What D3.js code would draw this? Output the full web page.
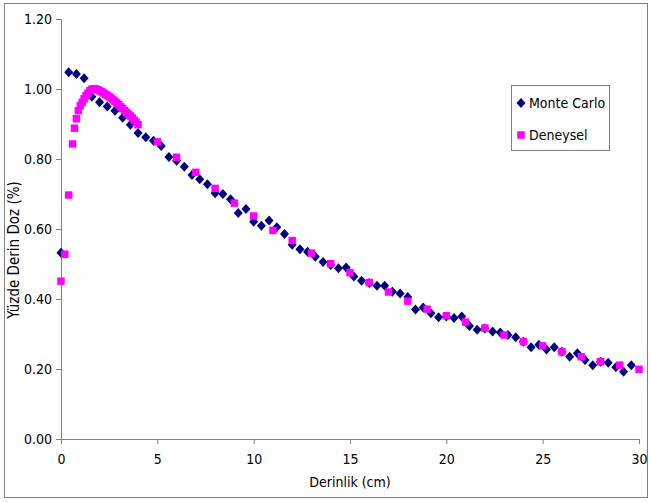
<!DOCTYPE html>
<html>
<head>
<meta charset="utf-8">
<script src="https://cdn.jsdelivr.net/npm/d3@7"></script>
<style>
  body { margin: 0; background: #fff; }
  svg text { font-family: "Liberation Sans Narrow", "Arial Narrow", "DejaVu Sans Condensed", sans-serif; fill: #000; }
</style>
</head>
<body>
<svg id="chart"></svg>
<script>
// Monte Carlo: every 0.4 cm
const mcDepth = [0, 0.4, 0.8, 1.2, 1.6, 2.0, 2.4, 2.8, 3.2, 3.6, 4.0, 4.4, 4.8, 5.2, 5.6, 6.0, 6.4, 6.8, 7.2, 7.6,
  8.0, 8.4, 8.8, 9.2, 9.6, 10.0, 10.4, 10.8, 11.2, 11.6, 12.0, 12.4, 12.8, 13.2, 13.6, 14.0, 14.4, 14.8, 15.2, 15.6,
  16.0, 16.4, 16.8, 17.2, 17.6, 18.0, 18.4, 18.8, 19.2, 19.6, 20.0, 20.4, 20.8, 21.2, 21.6, 22.0, 22.4, 22.8, 23.2, 23.6,
  24.0, 24.4, 24.8, 25.2, 25.6, 26.0, 26.4, 26.8, 27.2, 27.6, 28.0, 28.4, 28.8, 29.2, 29.6];
const mcDose = [0.532, 1.048, 1.043, 1.031, 0.978, 0.962, 0.950, 0.938, 0.918, 0.898, 0.874, 0.862, 0.852, 0.837, 0.806, 0.795, 0.778, 0.754, 0.742, 0.728,
  0.702, 0.700, 0.685, 0.646, 0.657, 0.621, 0.609, 0.624, 0.605, 0.586, 0.555, 0.542, 0.535, 0.521, 0.506, 0.497, 0.488, 0.490, 0.464, 0.452,
  0.446, 0.438, 0.438, 0.421, 0.416, 0.406, 0.370, 0.376, 0.359, 0.348, 0.350, 0.346, 0.350, 0.323, 0.312, 0.316, 0.307, 0.304, 0.297, 0.291,
  0.278, 0.262, 0.269, 0.256, 0.262, 0.249, 0.235, 0.245, 0.226, 0.211, 0.221, 0.218, 0.205, 0.192, 0.211];

// Deneysel (measured)
const expDepth = [0, 0.2, 0.4, 0.6, 0.7, 0.8, 0.9, 1.0, 1.1, 1.2, 1.3, 1.4, 1.5, 1.6, 1.7, 1.8, 1.9, 2.0, 2.1, 2.2,
  2.3, 2.4, 2.5, 2.6, 2.7, 2.8, 2.9, 3.0, 3.1, 3.2, 3.3, 3.4, 3.5, 3.6, 3.7, 3.8, 3.9, 4.0,
  5, 6, 7, 8, 9, 10, 11, 12, 13, 14, 15, 16, 17, 18, 19, 20, 21, 22, 23, 24, 25, 26, 27, 28, 29, 30];
const expDose = [0.451, 0.528, 0.697, 0.843, 0.888, 0.915, 0.938, 0.952, 0.962, 0.972, 0.981, 0.988, 0.995, 0.999, 1.001, 1.000, 0.998, 0.995, 0.992, 0.989,
  0.985, 0.982, 0.978, 0.974, 0.969, 0.965, 0.960, 0.955, 0.949, 0.944, 0.938, 0.933, 0.928, 0.923, 0.917, 0.911, 0.905, 0.898,
  0.849, 0.805, 0.762, 0.716, 0.674, 0.637, 0.596, 0.567, 0.531, 0.501, 0.475, 0.447, 0.420, 0.394, 0.371, 0.352, 0.334, 0.317, 0.297, 0.278, 0.266, 0.249, 0.235, 0.221, 0.211, 0.199];

const xTicks = [0, 5, 10, 15, 20, 25, 30];
const yTicks = [0, 0.2, 0.4, 0.6, 0.8, 1.0, 1.2];
const seriesNames = ["Monte Carlo", "Deneysel"];

const W = 650, H = 502;
const svg = d3.select("#chart").attr("width", W).attr("height", H);

svg.append("rect").attr("x", 4.5).attr("y", 3.5).attr("width", 643).attr("height", 494)
  .attr("fill", "#fff").attr("stroke", "#7f7f7f").attr("stroke-width", 1);

const x = d3.scaleLinear().domain([0, 30]).range([61, 639]);
const y = d3.scaleLinear().domain([0, 1.2]).range([439, 19]);

const xAxis = svg.append("g").attr("transform", `translate(0,${y(0)})`)
  .call(d3.axisBottom(x).tickValues(xTicks).tickFormat(d3.format("d")).tickSize(5).tickPadding(10));
const yAxis = svg.append("g").attr("transform", `translate(${x(0)},0)`)
  .call(d3.axisLeft(y).tickValues(yTicks).tickFormat(d3.format(".2f")).tickSize(5).tickPadding(4));
[xAxis, yAxis].forEach(g => {
  g.selectAll("path, line").attr("stroke", "#7f7f7f");
  g.selectAll("text").style("font-size", "14px");
});

svg.append("text").attr("x", x(15)).attr("y", 487).attr("text-anchor", "middle")
  .style("font-size", "14px").text("Derinlik (cm)");
svg.append("text").attr("transform", `translate(19,${y(0.54)}) rotate(-90)`).attr("text-anchor", "middle")
  .style("font-size", "15px").text("Yüzde Derin Doz (%)");

const diamond = "M0,-5L4.5,0L0,5L-4.5,0Z";
const square = d3.symbol().type(d3.symbolSquare).size(56)();

svg.append("g").selectAll("path").data(d3.zip(mcDepth, mcDose)).enter().append("path")
  .attr("d", diamond).attr("fill", "#000080")
  .attr("transform", d => `translate(${x(d[0])},${y(d[1])})`);
svg.append("g").selectAll("path").data(d3.zip(expDepth, expDose)).enter().append("path")
  .attr("d", square).attr("fill", "#ff00ff")
  .attr("transform", d => `translate(${x(d[0])},${y(d[1])})`);

// legend
const lg = svg.append("g");
lg.append("rect").attr("x", 511.5).attr("y", 85.5).attr("width", 98).attr("height", 65)
  .attr("fill", "#fff").attr("stroke", "#7f7f7f");
lg.append("path").attr("d", diamond).attr("fill", "#000080").attr("transform", "translate(521,103)");
lg.append("path").attr("d", square).attr("fill", "#ff00ff").attr("transform", "translate(521,135)");
lg.selectAll("text.lbl").data(seriesNames).enter().append("text").attr("class", "lbl")
  .attr("x", 529).attr("y", (d, i) => 108 + i * 32).style("font-size", "14px").text(d => d);
</script>
</body>
</html>
